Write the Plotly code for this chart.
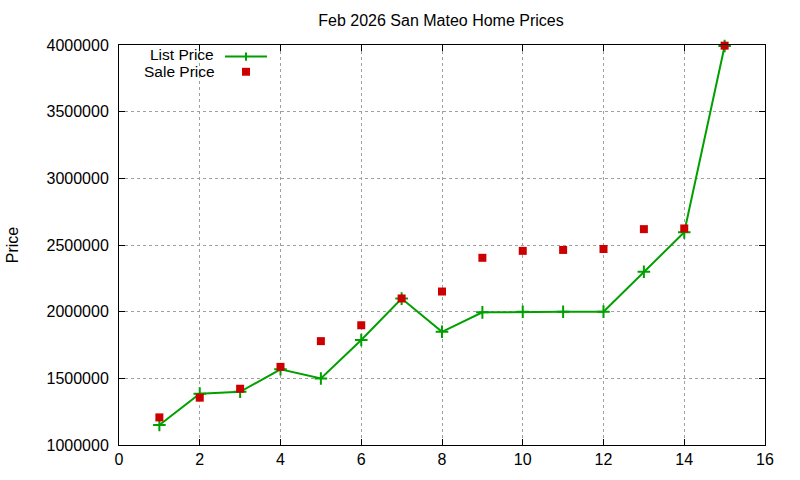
import plotly.graph_objects as go

# values
listing = list(range(1, 16))
list_price = [1150000, 1385000, 1399000, 1568000, 1499000, 1788000, 2098000, 1849000,
              1995000, 1999000, 1999000, 2000000, 2299000, 2595000, 3992000]
sale_price = [1207000, 1355000, 1422000, 1586000, 1779000, 1898000, 2099000, 2151000,
              2404000, 2456000, 2463000, 2470000, 2619000, 2624000, 3995000]
x_ticks = list(range(0, 17, 2))
y_ticks = list(range(1000000, 4000001, 500000))

GREEN = "#00a000"
RED = "#cc0000"
FONT = "Liberation Sans, Arial, sans-serif"

W, H = 800, 480
# plot area in pixels (gnuplot-like layout)
L, R, T, B = 119, 765, 45, 448.5


def px_x(p):
    return (p - L) / (R - L)


def px_y(p):
    return (B - p) / (B - T)


fig = go.Figure()
fig.add_trace(go.Scatter(
    x=listing, y=list_price, mode="lines+markers", name="List Price",
    line=dict(color=GREEN, width=2),
    marker=dict(symbol="cross-thin", size=9, line=dict(color=GREEN, width=2)),
    cliponaxis=False,
))
fig.add_trace(go.Scatter(
    x=listing, y=sale_price, mode="markers", name="Sale Price",
    marker=dict(symbol="square", size=8, color=RED, line=dict(width=0)),
    cliponaxis=False,
))

axis_common = dict(
    showline=True, linecolor="black", linewidth=1, mirror="ticks",
    ticks="inside", ticklen=6, tickcolor="black", tickwidth=1,
    showgrid=True, gridcolor="#a0a0a0", griddash="dot", gridwidth=1,
    zeroline=False, tickfont=dict(family=FONT, size=16, color="black"),
)

fig.update_xaxes(range=[0, 16], tickvals=x_ticks, **axis_common)
fig.update_yaxes(range=[1000000, 4000000], tickvals=y_ticks,
                 tickformat="d", ticklabelstandoff=6, **axis_common)

# gnuplot-style key: text on the left, sample on the right
shapes = [
    dict(type="line", xref="paper", yref="paper",
         x0=px_x(225), x1=px_x(267), y0=px_y(56.7), y1=px_y(56.7),
         line=dict(color=GREEN, width=2)),
    dict(type="line", xref="paper", yref="paper",
         x0=px_x(246), x1=px_x(246), y0=px_y(52.5), y1=px_y(61),
         line=dict(color=GREEN, width=2)),
    dict(type="rect", xref="paper", yref="paper",
         x0=px_x(242), x1=px_x(250), y0=px_y(68), y1=px_y(76),
         fillcolor=RED, line=dict(width=0)),
]

key_font = dict(family=FONT, size=15.5, color="black")
annotations = [
    dict(text="List Price", x=px_x(216), y=px_y(54.5), xref="paper", yref="paper",
         xanchor="right", yanchor="middle", showarrow=False, font=key_font),
    dict(text="Sale Price", x=px_x(217), y=px_y(72), xref="paper", yref="paper",
         xanchor="right", yanchor="middle", showarrow=False, font=key_font),
    dict(text="Price", x=px_x(12), y=px_y(247), xref="paper", yref="paper",
         xanchor="center", yanchor="middle", showarrow=False, textangle=-90,
         font=dict(family=FONT, size=16, color="black")),
]

fig.update_layout(
    width=W, height=H,
    margin=dict(l=L, r=W - R, t=T, b=H - B),
    paper_bgcolor="white", plot_bgcolor="white",
    showlegend=False,
    title=dict(text="Feb 2026 San Mateo Home Prices", x=(319 + 563) / 2 / W,
               xanchor="center", y=1 - 20 / H, yanchor="middle",
               font=dict(family=FONT, size=16, color="black")),
    shapes=shapes, annotations=annotations,
)

# drop the default page margin so the figure fills the window from (0, 0)
fig.write_html("out.html", config={"displayModeBar": False},
               post_script="document.body.style.margin = '0';")
